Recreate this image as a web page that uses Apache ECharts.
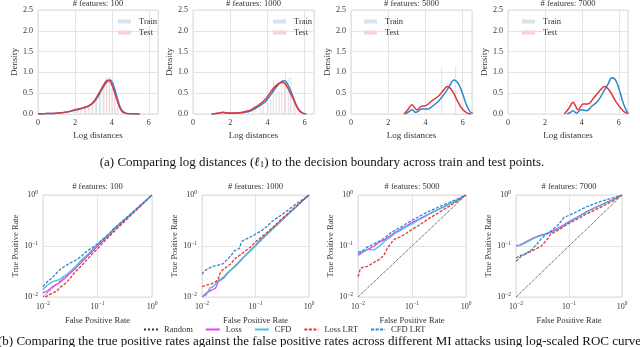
<!DOCTYPE html>
<html>
<head>
<meta charset="utf-8">
<script src="https://cdn.jsdelivr.net/npm/echarts@6/dist/echarts.min.js"></script>
<style>
  html, body { margin: 0; padding: 0; background: #fff; }
  #chart { width: 640px; height: 347px; }
</style>
</head>
<body>
<div id="chart"></div>
<script>
// ---- data ----
const featureCounts = [100, 1000, 5000, 7000];

// KDE of log distances, [x, density]
const kdeTrain100 = [[0,0.0],[0.5,0.01],[1,0.02],[1.5,0.04],[2,0.09],[2.5,0.15],[2.75,0.19],[3,0.27],[3.25,0.42],[3.5,0.62],[3.75,0.78],[3.9,0.82],[4.05,0.74],[4.25,0.45],[4.5,0.12],[4.75,0.02],[5,0.005],[5.5,0]];
const kdeTest100 = [[0,0.0],[0.5,0.01],[1,0.02],[1.5,0.045],[2,0.1],[2.5,0.16],[2.75,0.2],[3,0.29],[3.25,0.46],[3.5,0.66],[3.7,0.79],[3.82,0.81],[4,0.7],[4.25,0.38],[4.5,0.09],[4.75,0.015],[5,0.003],[5.5,0]];
const kdeTrain1000 = [[1,0],[1.4,0.02],[1.6,0.035],[1.9,0.02],[2.5,0.025],[3,0.06],[3.3,0.12],[3.6,0.2],[3.9,0.3],[4.2,0.48],[4.5,0.66],[4.75,0.78],[4.92,0.8],[5.1,0.7],[5.3,0.5],[5.5,0.26],[5.7,0.09],[5.9,0.02],[6.1,0]];
const kdeTest1000 = [[1,0],[1.4,0.025],[1.6,0.04],[1.9,0.025],[2.5,0.03],[3,0.08],[3.3,0.15],[3.6,0.24],[3.9,0.36],[4.2,0.55],[4.5,0.7],[4.7,0.75],[4.85,0.76],[5.05,0.66],[5.25,0.48],[5.45,0.3],[5.65,0.12],[5.85,0.03],[6.05,0]];
const kdeTrain5000 = [[2.9,0],[3.1,0.05],[3.28,0.1],[3.46,0.04],[3.62,0.07],[3.8,0.12],[4.1,0.12],[4.36,0.18],[4.72,0.32],[5.08,0.52],[5.35,0.72],[5.53,0.82],[5.75,0.74],[6.0,0.48],[6.2,0.22],[6.4,0.05],[6.55,0.01]];
const kdeTest5000 = [[2.85,0],[3.05,0.1],[3.28,0.22],[3.42,0.15],[3.55,0.1],[3.78,0.19],[4.0,0.2],[4.36,0.32],[4.72,0.44],[4.99,0.58],[5.17,0.66],[5.44,0.56],[5.71,0.32],[5.98,0.12],[6.25,0.02],[6.45,0]];
const kdeTrain7000 = [[3.2,0],[3.35,0.03],[3.53,0.08],[3.7,0.02],[3.98,0.1],[4.25,0.08],[4.52,0.18],[4.88,0.32],[5.15,0.52],[5.42,0.72],[5.62,0.87],[5.82,0.82],[6.05,0.55],[6.25,0.25],[6.45,0.05],[6.55,0.01]];
const kdeTest7000 = [[3.05,0],[3.3,0.14],[3.53,0.28],[3.65,0.2],[3.8,0.1],[4.07,0.24],[4.34,0.24],[4.6,0.36],[4.97,0.56],[5.24,0.66],[5.5,0.56],[5.87,0.28],[6.23,0.08],[6.45,0.01]];

// faint histogram bars behind the KDEs, [x, density]
const histTrain100 = [[2.0,0.06],[2.2,0.1],[2.4,0.14],[2.6,0.18],[2.8,0.22],[3.0,0.3],[3.2,0.42],[3.4,0.56],[3.6,0.72],[3.75,0.86],[3.9,0.9],[4.05,0.7],[4.2,0.45],[4.35,0.2]];
const histTest100 = [[2.1,0.1],[2.3,0.12],[2.5,0.16],[2.7,0.2],[2.9,0.26],[3.1,0.36],[3.3,0.5],[3.5,0.64],[3.68,0.88],[3.83,0.84],[3.98,0.62],[4.13,0.4],[4.28,0.18]];
const histTrain1000 = [[3.0,0.06],[3.4,0.1],[3.8,0.2],[4.2,0.35],[4.5,0.5],[4.8,0.7],[5.0,1.0],[5.15,0.85],[5.28,0.9],[5.5,0.4]];
const histTest1000 = [[3.2,0.08],[3.6,0.15],[4.0,0.25],[4.29,0.82],[4.6,0.55],[4.9,0.75],[5.2,0.6],[5.4,0.35]];
const histTrain5000 = [[4.9,1.12],[5.65,1.16]];
const histTest5000 = [];
const histTrain7000 = [];
const histTest7000 = [];

// ROC curves, [FPR, TPR]
const randomRoc = [[0.01,0.01],[1,1]];
const loss100 = [[0.01,0.012],[0.012,0.013],[0.015,0.016],[0.02,0.019],[0.025,0.023],[0.03,0.028],[0.04,0.037],[0.05,0.047],[0.06,0.058],[0.08,0.078],[0.1,0.1],[0.13,0.13],[0.17,0.17],[0.2,0.21],[0.3,0.31],[0.4,0.41],[0.5,0.5],[0.7,0.7],[1,1]];
const cfd100 = [[0.01,0.014],[0.012,0.017],[0.015,0.02],[0.02,0.022],[0.025,0.026],[0.03,0.03],[0.04,0.04],[0.05,0.052],[0.06,0.062],[0.08,0.085],[0.1,0.11],[0.13,0.14],[0.17,0.18],[0.2,0.22],[0.25,0.27],[0.3,0.32],[0.4,0.41],[0.5,0.51],[0.7,0.71],[1,1]];
const lossLrt100 = [[0.011,0.01],[0.013,0.011],[0.015,0.012],[0.018,0.013],[0.02,0.015],[0.025,0.018],[0.03,0.022],[0.035,0.027],[0.04,0.032],[0.05,0.04],[0.06,0.05],[0.07,0.06],[0.08,0.07],[0.1,0.088],[0.13,0.12],[0.17,0.16],[0.2,0.19],[0.3,0.29],[0.4,0.39],[0.5,0.49],[0.7,0.69],[1,1]];
const cfdLrt100 = [[0.01,0.016],[0.012,0.02],[0.015,0.024],[0.018,0.03],[0.02,0.034],[0.025,0.04],[0.03,0.045],[0.04,0.053],[0.05,0.062],[0.06,0.075],[0.07,0.085],[0.08,0.092],[0.1,0.11],[0.13,0.14],[0.17,0.18],[0.2,0.22],[0.3,0.32],[0.4,0.42],[0.5,0.52],[0.7,0.71],[1,1]];

const loss1000 = [[0.01,0.01],[0.012,0.012],[0.014,0.013],[0.016,0.014],[0.018,0.015],[0.02,0.02],[0.025,0.023],[0.03,0.029],[0.04,0.039],[0.05,0.05],[0.06,0.061],[0.08,0.082],[0.1,0.104],[0.13,0.14],[0.17,0.18],[0.2,0.215],[0.3,0.32],[0.4,0.42],[0.5,0.52],[0.7,0.71],[1,1]];
const cfd1000 = [[0.01,0.01],[0.012,0.011],[0.014,0.015],[0.016,0.016],[0.018,0.018],[0.02,0.021],[0.025,0.024],[0.03,0.03],[0.04,0.038],[0.05,0.048],[0.06,0.06],[0.08,0.08],[0.1,0.1],[0.13,0.135],[0.17,0.175],[0.2,0.21],[0.3,0.31],[0.4,0.41],[0.5,0.51],[0.7,0.71],[1,1]];
const lossLrt1000 = [[0.01,0.016],[0.012,0.017],[0.015,0.018],[0.018,0.02],[0.02,0.022],[0.022,0.03],[0.025,0.035],[0.03,0.04],[0.035,0.045],[0.04,0.055],[0.05,0.065],[0.06,0.075],[0.07,0.085],[0.08,0.095],[0.1,0.12],[0.13,0.15],[0.17,0.19],[0.2,0.22],[0.3,0.33],[0.4,0.43],[0.5,0.53],[0.7,0.72],[1,1]];
const cfdLrt1000 = [[0.01,0.028],[0.011,0.032],[0.013,0.036],[0.016,0.04],[0.02,0.042],[0.025,0.045],[0.03,0.055],[0.035,0.065],[0.04,0.08],[0.045,0.085],[0.05,0.09],[0.055,0.12],[0.06,0.13],[0.07,0.14],[0.08,0.15],[0.1,0.17],[0.13,0.2],[0.17,0.25],[0.2,0.3],[0.3,0.4],[0.4,0.5],[0.5,0.6],[0.7,0.77],[1,1]];

const loss5000 = [[0.01,0.065],[0.012,0.075],[0.015,0.085],[0.02,0.1],[0.025,0.12],[0.03,0.13],[0.04,0.16],[0.05,0.19],[0.06,0.21],[0.08,0.25],[0.1,0.29],[0.13,0.33],[0.17,0.38],[0.2,0.42],[0.3,0.52],[0.4,0.6],[0.5,0.67],[0.7,0.8],[1,1]];
const cfd5000 = [[0.01,0.07],[0.012,0.078],[0.015,0.085],[0.018,0.085],[0.02,0.084],[0.022,0.09],[0.025,0.1],[0.03,0.12],[0.04,0.15],[0.05,0.18],[0.06,0.2],[0.08,0.24],[0.1,0.27],[0.13,0.32],[0.17,0.37],[0.2,0.41],[0.3,0.51],[0.4,0.59],[0.5,0.66],[0.7,0.79],[1,1]];
const lossLrt5000 = [[0.01,0.025],[0.011,0.035],[0.012,0.038],[0.015,0.04],[0.018,0.045],[0.02,0.048],[0.025,0.055],[0.03,0.065],[0.035,0.09],[0.04,0.11],[0.045,0.13],[0.05,0.14],[0.06,0.15],[0.08,0.18],[0.1,0.21],[0.13,0.25],[0.17,0.3],[0.2,0.34],[0.3,0.44],[0.4,0.53],[0.5,0.61],[0.7,0.76],[1,1]];
const cfdLrt5000 = [[0.01,0.075],[0.012,0.08],[0.015,0.095],[0.02,0.11],[0.025,0.125],[0.03,0.14],[0.04,0.18],[0.05,0.21],[0.06,0.23],[0.07,0.25],[0.08,0.28],[0.1,0.32],[0.13,0.37],[0.17,0.43],[0.2,0.47],[0.3,0.57],[0.4,0.65],[0.5,0.72],[0.7,0.84],[1,1]];

const loss7000 = [[0.01,0.1],[0.012,0.105],[0.015,0.12],[0.02,0.14],[0.025,0.155],[0.03,0.165],[0.035,0.17],[0.04,0.18],[0.05,0.2],[0.06,0.22],[0.08,0.26],[0.1,0.3],[0.13,0.35],[0.17,0.41],[0.2,0.45],[0.3,0.56],[0.4,0.64],[0.5,0.71],[0.7,0.83],[1,1]];
const cfd7000 = [[0.01,0.1],[0.012,0.103],[0.015,0.115],[0.02,0.135],[0.025,0.15],[0.03,0.16],[0.04,0.175],[0.05,0.19],[0.06,0.21],[0.08,0.25],[0.1,0.29],[0.13,0.34],[0.17,0.4],[0.2,0.44],[0.3,0.55],[0.4,0.63],[0.5,0.7],[0.7,0.82],[1,1]];
const lossLrt7000 = [[0.01,0.058],[0.012,0.065],[0.015,0.07],[0.02,0.08],[0.025,0.09],[0.03,0.1],[0.035,0.12],[0.04,0.14],[0.045,0.17],[0.05,0.18],[0.06,0.2],[0.08,0.24],[0.1,0.28],[0.13,0.32],[0.17,0.37],[0.2,0.41],[0.3,0.5],[0.4,0.58],[0.5,0.65],[0.7,0.78],[1,1]];
const cfdLrt7000 = [[0.01,0.05],[0.012,0.06],[0.015,0.07],[0.018,0.08],[0.02,0.085],[0.025,0.11],[0.03,0.14],[0.035,0.16],[0.04,0.18],[0.05,0.21],[0.06,0.25],[0.07,0.3],[0.08,0.36],[0.1,0.4],[0.13,0.45],[0.17,0.52],[0.2,0.57],[0.3,0.67],[0.4,0.75],[0.5,0.8],[0.7,0.89],[1,1]];

const kdeTrain = [kdeTrain100, kdeTrain1000, kdeTrain5000, kdeTrain7000];
const kdeTest = [kdeTest100, kdeTest1000, kdeTest5000, kdeTest7000];
const histTrain = [histTrain100, histTrain1000, histTrain5000, histTrain7000];
const histTest = [histTest100, histTest1000, histTest5000, histTest7000];
const rocLoss = [loss100, loss1000, loss5000, loss7000];
const rocCfd = [cfd100, cfd1000, cfd5000, cfd7000];
const rocLossLrt = [lossLrt100, lossLrt1000, lossLrt5000, lossLrt7000];
const rocCfdLrt = [cfdLrt100, cfdLrt1000, cfdLrt5000, cfdLrt7000];

// ---- layout ----
const FONT = '"Liberation Serif", "DejaVu Serif", serif';
const topGrids = [
  { left: 38, width: 120 },
  { left: 193, width: 121 },
  { left: 351, width: 121 },
  { left: 508, width: 120 }
];
const botGrids = [
  { left: 43, width: 109 },
  { left: 202, width: 107 },
  { left: 358, width: 108 },
  { left: 516, width: 106 }
];
const legendLeft = [113, 268, 359, 517];

const chart = echarts.init(document.getElementById('chart'), null, { renderer: 'canvas' });

const grid = [], xAxis = [], yAxis = [], series = [], legend = [], graphic = [];
const gridLine = { lineStyle: { color: '#e4e4e4', width: 1 } };
const tickText = { fontFamily: FONT, fontSize: 8, color: '#333' };

const logLabel = {
  ...tickText,
  formatter: (v) => {
    const e = Math.round(Math.log10(v));
    return '{b|10}{s|' + (e < 0 ? '\u2212' + (-e) : e) + '}';
  },
  rich: {
    b: { fontFamily: FONT, fontSize: 8, color: '#333', lineHeight: 11 },
    s: { fontFamily: FONT, fontSize: 5.5, color: '#333', lineHeight: 6, verticalAlign: 'top' }
  }
};

// top row: KDE of log distances
topGrids.forEach((g, i) => {
  grid.push({ left: g.left, top: 10, width: g.width, height: 104, show: true, borderColor: '#dcdcdc', borderWidth: 1 });
  xAxis.push({
    type: 'value', gridIndex: i, min: 0, max: 6.5, interval: 2,
    axisLine: { show: false }, axisTick: { show: false },
    axisLabel: { ...tickText, margin: 5, showMaxLabel: false },
    splitLine: gridLine,
    name: 'Log distances', nameLocation: 'middle', nameGap: 17,
    nameTextStyle: { fontFamily: FONT, fontSize: 9, color: '#333' }
  });
  yAxis.push({
    type: 'value', gridIndex: i, min: 0, max: 2.5, interval: 0.5,
    axisLine: { show: false }, axisTick: { show: false },
    axisLabel: { ...tickText, margin: 5, formatter: (v) => v.toFixed(1) },
    splitLine: gridLine,
    name: 'Density', nameLocation: 'middle', nameGap: 18,
    nameTextStyle: { fontFamily: FONT, fontSize: 9, color: '#333' }
  });
  series.push({
    name: 'Train', type: 'bar', xAxisIndex: i, yAxisIndex: i, barWidth: 1, barGap: '0%',
    itemStyle: { color: '#d3e5f3' }, data: histTrain[i], z: 1
  });
  series.push({
    name: 'Test', type: 'bar', xAxisIndex: i, yAxisIndex: i, barWidth: 1, barGap: '0%',
    itemStyle: { color: '#f7d3d4' }, data: histTest[i], z: 1
  });
  series.push({
    name: 'Train KDE', type: 'line', xAxisIndex: i, yAxisIndex: i, smooth: 0.4, symbol: 'none',
    lineStyle: { color: '#2f86c8', width: 1.5 }, data: kdeTrain[i], z: 3
  });
  series.push({
    name: 'Test KDE', type: 'line', xAxisIndex: i, yAxisIndex: i, smooth: 0.4, symbol: 'none',
    lineStyle: { color: '#e2363c', width: 1.5 }, data: kdeTest[i], z: 4
  });
  legend.push({
    data: ['Train', 'Test'], orient: 'vertical', left: legendLeft[i], top: 12,
    icon: 'rect', itemWidth: 13, itemHeight: 4, itemGap: 2, selectedMode: false,
    textStyle: { fontFamily: FONT, fontSize: 8.5, color: '#333', padding: [0, 0, 0, 3] }
  });
  graphic.push({
    type: 'text', x: g.left + g.width / 2, y: 4,
    style: { text: '# features: ' + featureCounts[i], fontFamily: FONT, fontSize: 8.5, fill: '#333', textAlign: 'center', textVerticalAlign: 'middle' }
  });
});

// bottom row: log-scaled ROC curves
const rocStyle = [
  { name: 'Random', color: '#333333', type: 'dotted', width: 1 },
  { name: 'Loss', color: '#f03cf0', type: 'solid', width: 1.3 },
  { name: 'CFD', color: '#3fc6d8', type: 'solid', width: 1.3 },
  { name: 'Loss LRT', color: '#e2363c', type: [3, 1.5], width: 1.3 },
  { name: 'CFD LRT', color: '#2f86c8', type: [3, 1.5], width: 1.3 }
];
botGrids.forEach((g, j) => {
  const i = j + 4;
  grid.push({ left: g.left, top: 195, width: g.width, height: 102, show: true, borderColor: '#dcdcdc', borderWidth: 1 });
  xAxis.push({
    type: 'log', logBase: 10, gridIndex: i, min: 0.01, max: 1,
    axisLine: { show: false }, axisTick: { show: false }, minorTick: { show: false },
    axisLabel: { ...logLabel, margin: 4 },
    splitLine: gridLine,
    name: 'False Positive Rate', nameLocation: 'middle', nameGap: 19,
    nameTextStyle: { fontFamily: FONT, fontSize: 8.5, color: '#333' }
  });
  yAxis.push({
    type: 'log', logBase: 10, gridIndex: i, min: 0.01, max: 1,
    axisLine: { show: false }, axisTick: { show: false }, minorTick: { show: false },
    axisLabel: { ...logLabel, margin: 5 },
    splitLine: gridLine,
    name: 'True Positive Rate', nameLocation: 'middle', nameGap: 23,
    nameTextStyle: { fontFamily: FONT, fontSize: 8.5, color: '#333' }
  });
  const curves = [randomRoc, rocLoss[j], rocCfd[j], rocLossLrt[j], rocCfdLrt[j]];
  curves.forEach((d, k) => {
    const s = rocStyle[k];
    series.push({
      name: s.name, type: 'line', xAxisIndex: i, yAxisIndex: i, symbol: 'none',
      lineStyle: { color: s.color, type: s.type, width: s.width },
      itemStyle: { color: s.color },
      data: d, z: k === 0 ? 2 : 3 + k
    });
  });
  graphic.push({
    type: 'text', x: g.left + g.width / 2, y: 187,
    style: { text: '# features: ' + featureCounts[j], fontFamily: FONT, fontSize: 8.5, fill: '#333', textAlign: 'center', textVerticalAlign: 'middle' }
  });
});

// bottom legend: line samples only, hide the marker the line legend draws
legend.push({
  data: rocStyle.map(s => s.name), left: 138, top: 320,
  itemWidth: 14, itemHeight: 8, itemGap: 12, selectedMode: false,
  itemStyle: { opacity: 0 },
  textStyle: { fontFamily: FONT, fontSize: 8.5, color: '#333', padding: [0, 0, 0, 1] }
});

// captions
graphic.push({
  type: 'text', x: 322, y: 163,
  style: {
    text: '(a) Comparing log distances ({i|\u2113}{sub|1}) to the decision boundary across train and test points.',
    fontFamily: FONT, fontSize: 13, fill: '#111', textAlign: 'center', textVerticalAlign: 'middle',
    rich: {
      i: { fontFamily: FONT, fontSize: 13, fontStyle: 'italic', fill: '#111' },
      sub: { fontFamily: FONT, fontSize: 9, fill: '#111', verticalAlign: 'bottom', lineHeight: 10, padding: [6, 0, 0, 0] }
    }
  }
});
graphic.push({
  type: 'text', x: -2, y: 342,
  style: {
    text: '(b) Comparing the true positive rates against the false positive rates across different MI attacks using log-scaled ROC curves',
    fontFamily: FONT, fontSize: 13, fill: '#111', textAlign: 'left', textVerticalAlign: 'middle'
  }
});

chart.setOption({
  animation: false,
  backgroundColor: '#fff',
  grid, xAxis, yAxis, series, legend, graphic
});

window.addEventListener('resize', () => chart.resize());
</script>
</body>
</html>
